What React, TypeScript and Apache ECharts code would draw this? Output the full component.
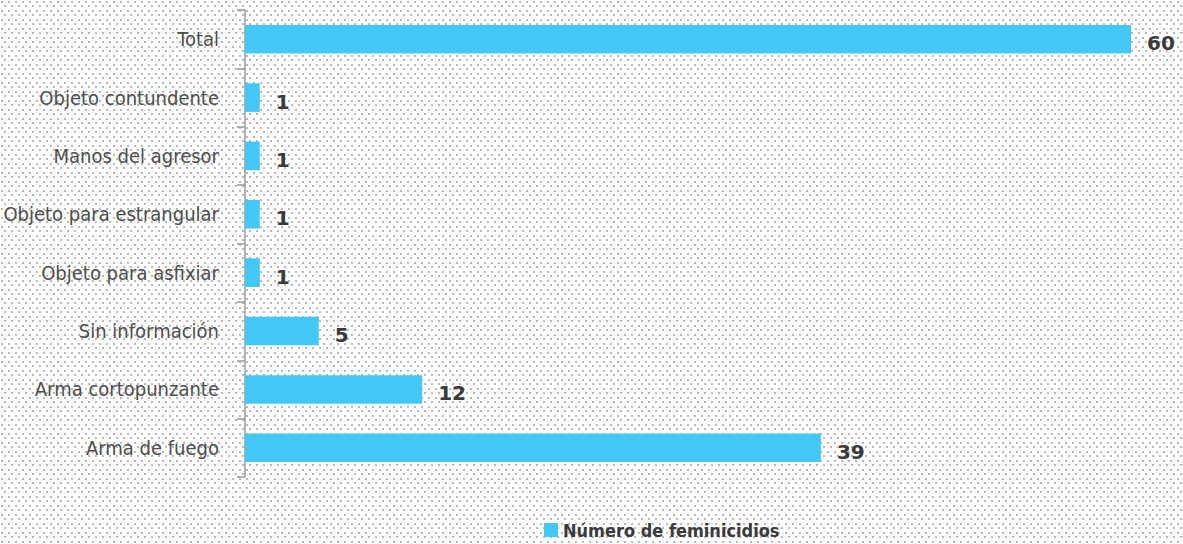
import React, { useEffect, useRef } from "react";
import * as echarts from "echarts";

const categories = [
  "Arma de fuego",
  "Arma cortopunzante",
  "Sin información",
  "Objeto para asfixiar",
  "Objeto para estrangular",
  "Manos del agresor",
  "Objeto contundente",
  "Total",
];
const values = [39, 12, 5, 1, 1, 1, 1, 60];
const seriesName = "Número de feminicidios";

const narrowFont = "'DejaVu Sans Condensed', 'Arial Narrow', 'Liberation Sans Narrow', sans-serif";

const dotSvg =
  "data:image/svg+xml," +
  encodeURIComponent(
    "<svg xmlns='http://www.w3.org/2000/svg' width='7' height='9'>" +
      "<rect x='1' y='1' width='2' height='2' fill='#b8b8b8'/>" +
      "<rect x='4' y='5' width='2' height='2' fill='#b8b8b8'/>" +
      "</svg>"
  );

export default function App() {
  const ref = useRef<HTMLDivElement>(null);
  useEffect(() => {
    document.body.style.margin = "0";
    const chart = echarts.init(ref.current!, null, { renderer: "svg" });
    chart.setOption({
      animation: false,
      backgroundColor: "transparent",
      grid: { left: 245, right: 52, top: 10, bottom: 67 },
      legend: {
        show: true,
        left: 539,
        top: 516,
        itemWidth: 14,
        itemHeight: 14,
        itemGap: 6,
        icon: "rect",
        textStyle: {
          fontFamily: narrowFont,
          fontWeight: "bold",
          fontSize: 18,
          color: "#3a3a3a",
        },
        data: [seriesName],
      },
      xAxis: {
        type: "value",
        min: 0,
        max: 60,
        show: false,
      },
      yAxis: {
        type: "category",
        data: categories,
        axisLine: { show: true, lineStyle: { color: "#9a9a9a", width: 1.5 } },
        axisTick: { show: true, length: 8, lineStyle: { color: "#9a9a9a", width: 1.5 } },
        axisLabel: {
          margin: 26,
          fontFamily: narrowFont,
          fontSize: 20,
          color: "#4d4d4d",
        },
        splitLine: { show: false },
      },
      series: [
        {
          name: seriesName,
          type: "bar",
          data: values,
          barWidth: "49%",
          itemStyle: { color: "#43c8f5" },
          label: {
            show: true,
            position: "right",
            distance: 16,
            offset: [0, 4],
            fontFamily: "'DejaVu Sans'",
            fontWeight: "bold",
            fontSize: 20,
            color: "#3a3a3a",
          },
        },
      ],
    });
    return () => chart.dispose();
  }, []);
  return (
    <div
      ref={ref}
      style={{
        width: 1183,
        height: 544,
        backgroundColor: "#ffffff",
        backgroundImage: `url("${dotSvg}")`,
        backgroundRepeat: "repeat",
      }}
    />
  );
}
